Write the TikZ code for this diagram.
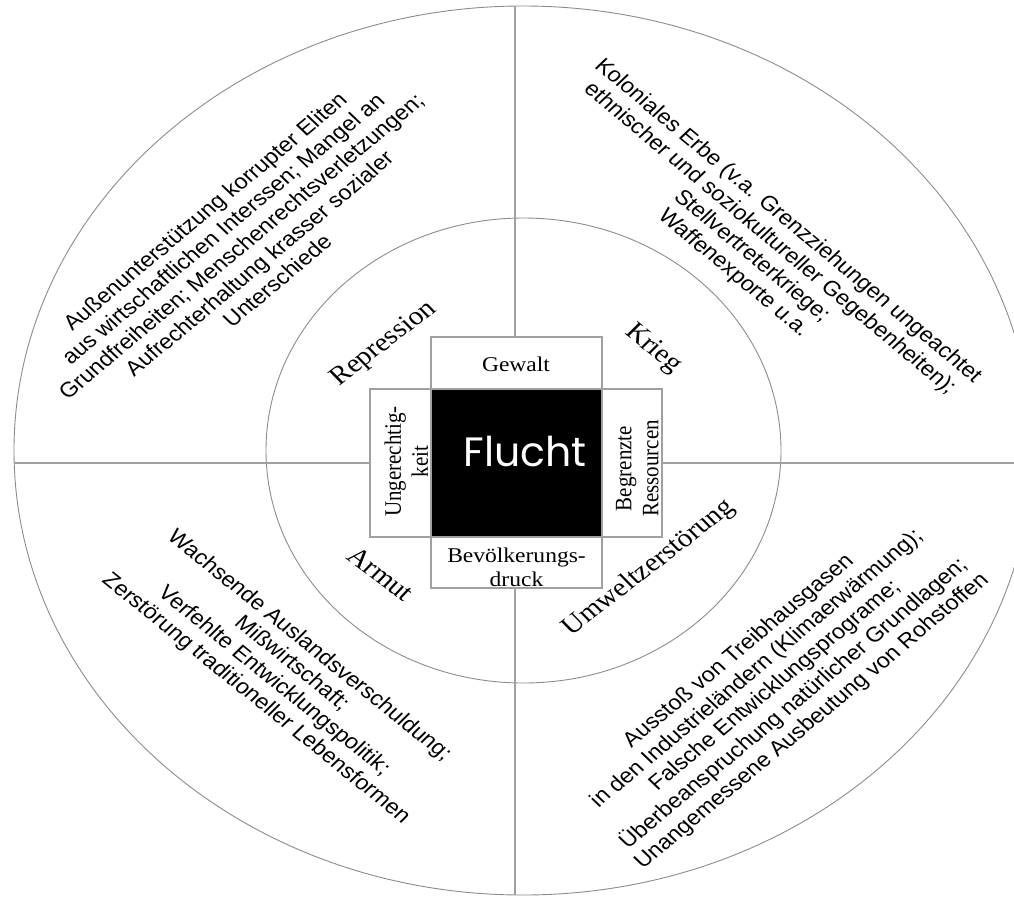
\documentclass[tikz,border=0pt]{standalone}
\usepackage{fontspec}
\usepackage{graphicx}
\setmainfont{Liberation Serif}
\newfontfamily\qsans{Liberation Sans}
\newfontfamily\flfont{Poppins}
\newcommand{\stretchrot}[2]{\scalebox{1.12}[1]{\rotatebox{#1}{#2}}}
\newcommand{\mlines}[1]{\begin{tabular}{@{}c@{}}#1\end{tabular}}
\newcommand{\boxfont}{\fontsize{21}{24}\selectfont}
\newcommand{\qfont}{\qsans\fontsize{21}{23.7}\selectfont}
\newcommand{\catfont}{\fontsize{26}{30}\selectfont}
\definecolor{linegray}{HTML}{8C8C8C}
\definecolor{boxgray}{HTML}{A0A0A0}
\tikzset{
  ring/.style={draw=linegray, line width=0.9pt},
  axis/.style={draw=boxgray, line width=1.4pt},
  cbox/.style={draw=boxgray, line width=1.3pt, fill=white, inner sep=0pt},
  txt/.style={inner sep=0pt, outer sep=0pt, text=black},
}
\begin{document}
\begin{tikzpicture}[x=1pt,y=-1pt]
\useasboundingbox (0,0) rectangle (1014,897);
\clip (0,0) rectangle (1014,897);
\fill[white] (0,0) rectangle (1014,897);
% rings and axes
\draw[ring] (523,450.5) ellipse [x radius=509, y radius=444.5];
\draw[ring] (523.5,450.5) ellipse [x radius=257.5, y radius=232.5];
\coordinate (vtop) at (515,6);
\coordinate (vbot) at (515,895);
\coordinate (hleft) at (14,463);
\coordinate (hright) at (1040,463);
\draw[axis] (vtop) -- (vbot);
\draw[axis] (hleft) -- (hright);
% central boxes
\node[cbox, minimum width=171pt, minimum height=52pt] (gew) at (516.5,363) {};
\node[cbox, minimum width=171pt, minimum height=51pt] (bev) at (516.5,562.5) {};
\node[cbox, minimum width=61pt, minimum height=148pt] (ung) at (400.5,463) {};
\node[cbox, minimum width=60pt, minimum height=148pt] (res) at (632,463) {};
\node[cbox, fill=black, minimum width=171pt, minimum height=148pt] (flu) at (516.5,463) {};
% box texts
\node[txt, text=white, font=\flfont\fontsize{41}{41}\selectfont] (tflu) at (525,452) {Flucht};
\node[txt, font=\boxfont] (tgew) at (516,364) {\scalebox{1.12}[1]{Gewalt}};
\node[txt, font=\boxfont] (tbev) at (516.5,570) {\scalebox{1.12}[1]{\mlines{Bevölkerungs-\\druck}}};
\node[txt, font=\boxfont] (tung) at (409,461.5) {\stretchrot{90}{\mlines{Ungerechtig-\\keit}}};
\node[txt, font=\boxfont] (tres) at (639.5,468.5) {\stretchrot{90}{\mlines{Begrenzte\\Ressourcen}}};
% category labels
\node[txt, font=\catfont] (crep) at (384,344) {\stretchrot{41}{Repression}};
\node[txt, font=\catfont] (ckri) at (653,349) {\stretchrot{-42}{Krieg}};
\node[txt, font=\catfont] (carm) at (381,574) {\stretchrot{-40}{Armut}};
\node[txt, font=\catfont] (cumw) at (649,568) {\stretchrot{41}{Umweltzerstörung}};
% quadrant texts
\node[txt, font=\qfont] (qtl) at (243,248) {\stretchrot{43}{\mlines{Außenunterstützung korrupter Eliten\\aus wirtschaftlichen Interssen; Mangel an\\Grundfreiheiten; Menschenrechtsverletzungen;\\Aufrechterhaltung krasser sozialer\\Unterschiede}}};
\node[txt, font=\qfont] (qtr) at (760,248) {\stretchrot{-43}{\mlines{Koloniales Erbe (v.a. Grenzziehungen ungeachtet\\ethnischer und soziokultureller Gegebenheiten);\\Stellvertreterkriege;\\Waffenexporte u.a.}}};
\node[txt, font=\qfont] (qbl) at (282,673) {\stretchrot{-42}{\mlines{Wachsende Auslandsverschuldung;\\Mißwirtschaft;\\Verfehlte Entwicklungspolitik;\\Zerstörung traditioneller Lebensformen}}};
\node[txt, font=\qfont] (qbr) at (776,687) {\stretchrot{43}{\mlines{Ausstoß von Treibhausgasen\\in den Industrieländern (Klimaerwärmung);\\Falsche Entwicklungsprograme;\\Überbeanspruchung natürlicher Grundlagen;\\Unangemessene Ausbeutung von Rohstoffen}}};
\end{tikzpicture}
\end{document}
